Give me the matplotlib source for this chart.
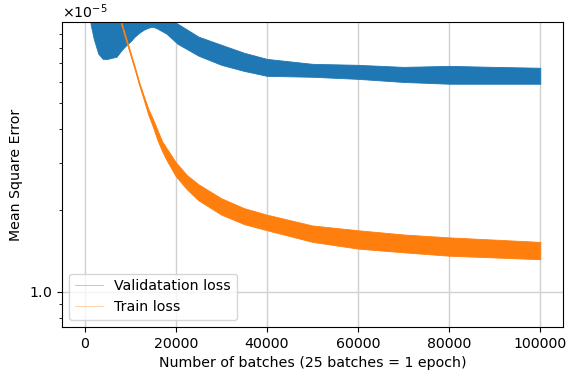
import numpy as np
import matplotlib
matplotlib.use("Agg")
import matplotlib.pyplot as plt
from matplotlib.ticker import ScalarFormatter

val_batches = [1300, 2000, 3000, 4000, 5000, 6000, 7000, 8000, 9000, 10000,
               11000, 12000, 13000, 14000, 15000, 16000, 18000, 20400, 25000,
               30000, 35000, 40000, 50000, 60000, 70000, 80000, 90000, 100000]
val_lower = [9.83, 8.65, 7.61, 7.28, 7.28, 7.35, 7.41, 7.80, 8.14, 8.43,
             8.80, 9.10, 9.34, 9.50, 9.58, 9.42, 9.02, 8.28, 7.48,
             6.92, 6.57, 6.30, 6.25, 6.14, 5.98, 5.89, 5.89, 5.89]
val_upper = [11.0, 11.0, 11.0, 11.0, 11.0, 11.0, 11.0, 11.0, 11.2, 11.4,
             11.6, 11.8, 12.0, 12.0, 12.0, 11.5, 10.4, 9.83, 8.80,
             8.21, 7.67, 7.28, 6.98, 6.92, 6.80, 6.86, 6.80, 6.75]

train_batches = [7900, 9000, 10000, 11000, 12000, 13000, 14000, 15000, 16000,
                 17000, 18000, 20000, 22500, 25000, 30000, 35000, 40000,
                 50000, 60000, 70000, 80000, 90000, 100000]
train_lower = [9.96, 8.61, 7.57, 6.66, 5.81, 5.13, 4.51, 4.08, 3.64,
               3.32, 3.07, 2.68, 2.39, 2.18, 1.93, 1.78, 1.69,
               1.53, 1.445, 1.40, 1.36, 1.34, 1.32]
train_upper = [10.2, 8.84, 7.77, 6.83, 5.96, 5.31, 4.75, 4.36, 3.97,
               3.61, 3.40, 3.02, 2.70, 2.50, 2.22, 2.04, 1.93,
               1.76, 1.69, 1.63, 1.59, 1.56, 1.53]

scale = 1e-5
plt.rcParams['font.size'] = 10.2

fig = plt.figure(figsize=(5.67, 3.76), dpi=100)
ax = fig.add_axes([0.109, 0.130, 0.884, 0.8115])

vl = np.array(val_lower) * scale
vu = np.array(val_upper) * scale
tl = np.array(train_lower) * scale
tu = np.array(train_upper) * scale

ax.fill_between(val_batches, vl, vu, color='C0', lw=0.6)
ax.plot(val_batches, np.sqrt(vl * vu), color='C0', lw=0.5, alpha=0.5, label='Validatation loss')
ax.fill_between(train_batches, tl, tu, color='C1', lw=0.6)
ax.plot(train_batches, np.sqrt(tl * tu), color='C1', lw=0.5, alpha=0.5, label='Train loss')

ax.set_yscale('log')
ax.set_xlim(-5000, 105000)
ax.set_ylim(7.4e-6, 9.97e-5)
fmt = ScalarFormatter(useMathText=True)
fmt.set_powerlimits((0, 0))
ax.yaxis.set_major_formatter(fmt)
ax.grid(True, color='#d0d0d0', lw=1)
ax.set_axisbelow(True)

ax.set_xlabel('Number of batches (25 batches = 1 epoch)')
ax.set_ylabel('Mean Square Error')
ax.legend(loc='lower left')

fig.savefig('out.png', dpi=100)
